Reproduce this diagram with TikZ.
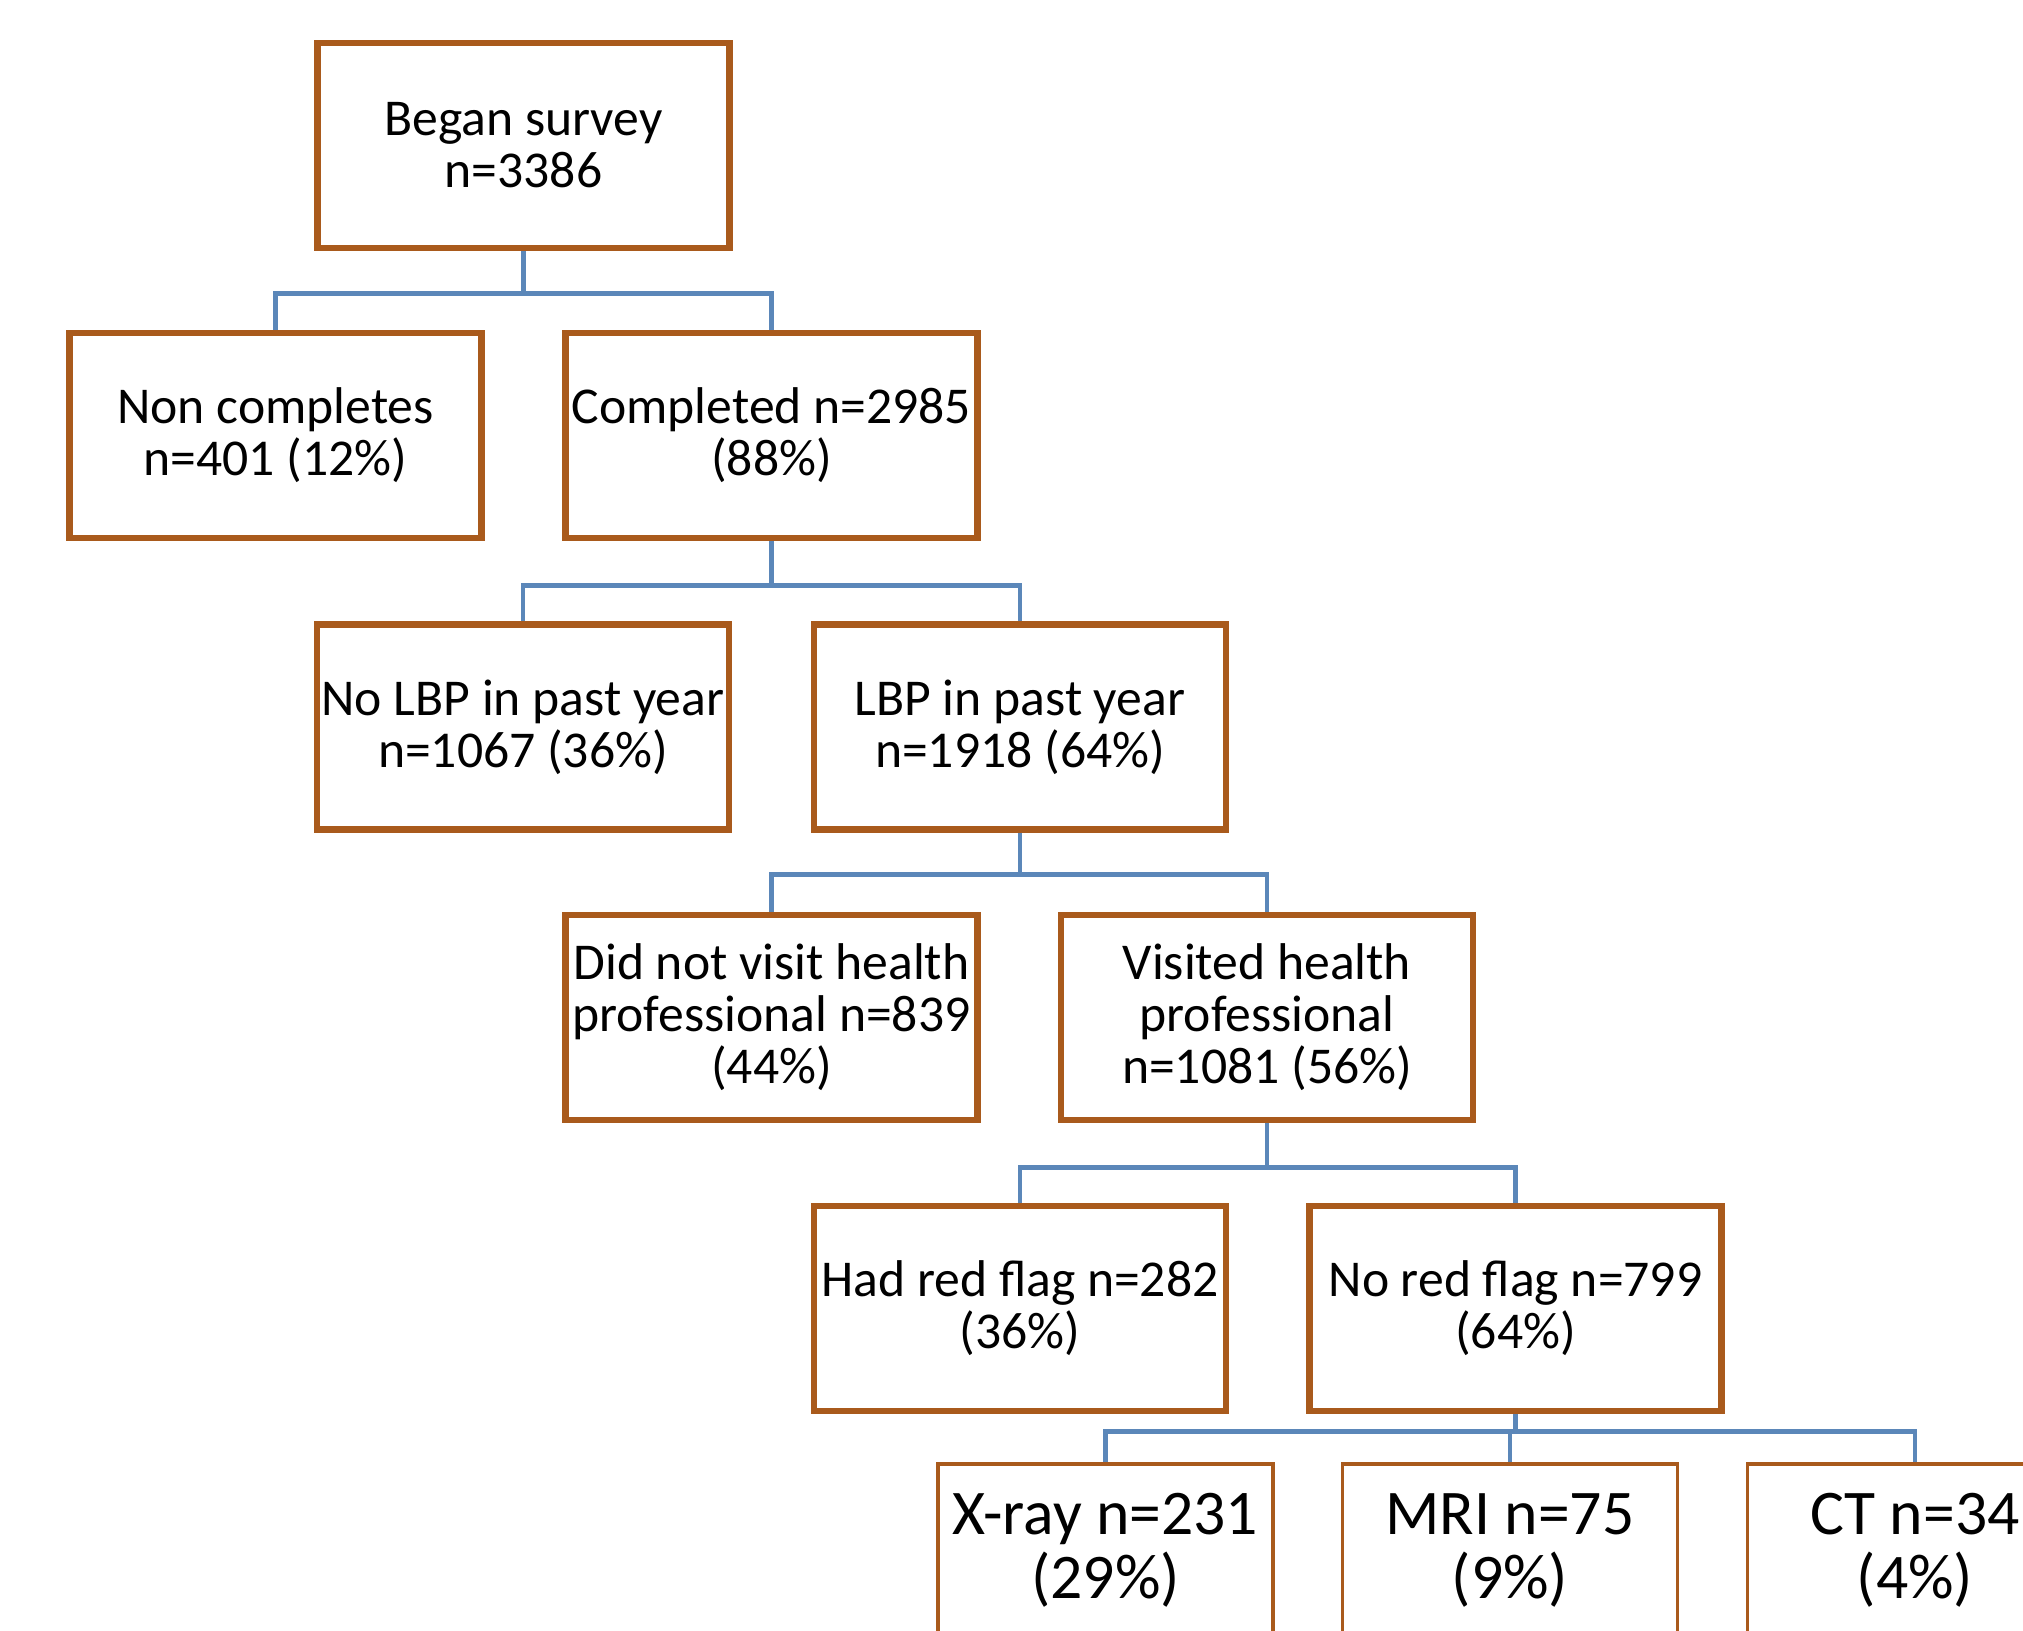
\documentclass[tikz,border=0pt]{standalone}
\usepackage{fontspec}
\setmainfont{Carlito}
\usetikzlibrary{calc}
\definecolor{VRust}{HTML}{A95A1C}
\definecolor{VSteel}{HTML}{5B87B9}
\tikzset{
    block/.style = {draw=VRust, line width=1.8pt, rectangle, fill=white,
        minimum height=2.05cm,
        minimum width=4.12cm, inner sep=0pt, align=center,
        font=\fontsize{14.7}{14.8}\selectfont},
    bigblock/.style = {block, line width=1.1pt, minimum height=1.72cm,
        minimum width=3.35cm, font=\fontsize{18.1}{18.2}\selectfont},
    link/.style = {draw=VSteel, line width=1.4pt}
}

\begin{document}
\begin{tikzpicture}
  \useasboundingbox (0,0) rectangle (20.23,-16.30);
  \clip (0,0) rectangle (20.23,-16.30);
  % flow boxes
  \node[block] (began) at (5.235,-1.455) {Began survey\\n=3386};
  \node[block] (noncomp) at (2.755,-4.355) {Non completes\\n=401 (12\%)};
  \node[block] (comp) at (7.715,-4.355) {Completed n=2985\\(88\%)};
  \node[block] (nolbp) at (5.23,-7.27) {No LBP in past year\\n=1067 (36\%)};
  \node[block] (lbp) at (10.2,-7.27) {LBP in past year\\n=1918 (64\%)};
  \node[block] (novisit) at (7.715,-10.175) {Did not visit health\\professional n=839\\(44\%)};
  \node[block] (visit) at (12.67,-10.175) {Visited health\\professional\\n=1081 (56\%)};
  \node[block] (flag) at (10.2,-13.085) {Had red flag n=282\\(36\%)};
  \node[block] (noflag) at (15.155,-13.085) {No red flag n=799\\(64\%)};
  \node[bigblock] (xray) at (11.055,-15.50) {X-ray n=231\\(29\%)};
  \node[bigblock] (mri) at (15.10,-15.50) {MRI n=75\\(9\%)};
  \node[bigblock] (ct) at (19.15,-15.50) {CT n=34\\(4\%)};
  % connectors
  \foreach \p/\c/\d in {began/noncomp/0.42, began/comp/0.42,
                        comp/nolbp/0.44, comp/lbp/0.44,
                        lbp/novisit/0.42, lbp/visit/0.42,
                        visit/flag/0.44, visit/noflag/0.44,
                        noflag/xray/0.17, noflag/mri/0.17, noflag/ct/0.17}{
    \draw[link] (\p.south) -- ++(0,-\d) -| (\c.north);
  };
\end{tikzpicture}
\end{document}
